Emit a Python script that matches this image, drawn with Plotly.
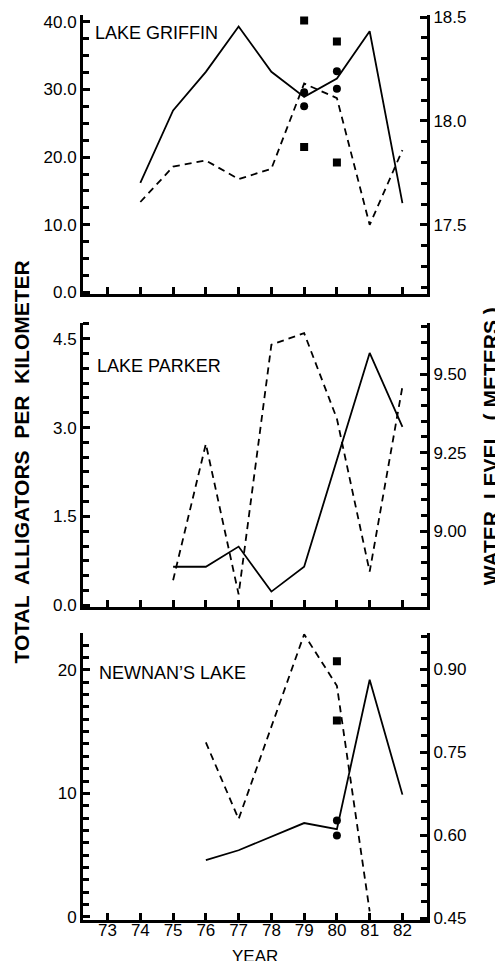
import plotly.graph_objects as go

# ---------------- data ----------------
year_ticks = [73, 74, 75, 76, 77, 78, 79, 80, 81, 82]
year_tick_labels = ["73", "74", "75", "76", "77", "78", "79", "80", "81", "82"]

# Lake Griffin
griffin_count_years = [74, 75, 76, 77, 78, 79, 80, 81, 82]
griffin_count = [16.2, 26.9, 32.6, 39.3, 32.6, 28.9, 31.6, 38.6, 13.2]
griffin_level_years = [74, 75, 76, 77, 78, 79, 80, 81, 82]
griffin_level = [17.61, 17.78, 17.81, 17.72, 17.77, 18.18, 18.11, 17.50, 17.86]
griffin_sq_years = [79, 79, 80, 80]
griffin_sq = [40.2, 21.5, 37.1, 19.2]
griffin_ci_years = [79, 79, 80, 80]
griffin_ci = [29.6, 27.5, 32.7, 30.1]

# Lake Parker
parker_count_years = [75, 76, 77, 78, 79, 81, 82]
parker_count = [0.65, 0.65, 0.99, 0.23, 0.65, 4.26, 3.01]
parker_level_years = [75, 76, 77, 78, 79, 80, 81, 82]
parker_level = [8.845, 9.278, 8.80, 9.593, 9.63, 9.358, 8.872, 9.46]

# Newnan's Lake
newnan_count_years = [76, 77, 79, 80, 81, 82]
newnan_count = [4.6, 5.4, 7.6, 7.1, 19.2, 9.9]
newnan_level_years = [76, 77, 79, 80, 81]
newnan_level = [0.7675, 0.629, 0.963, 0.87, 0.462]
newnan_sq_years = [80, 80]
newnan_sq = [20.7, 15.9]
newnan_ci_years = [80, 80]
newnan_ci = [7.8, 6.6]

# ---------------- figure ----------------
# The page body has an 8px margin: the figure is made 8px smaller than the
# window, and all positions below are given in window (page) pixels.
OFF = 8
PAGE_W, PAGE_H = 503, 961
PLOT_L, PLOT_R, PLOT_T, PLOT_B = 83, 419, 15, 912   # plot area in page pixels
W, H = PAGE_W - OFF, PAGE_H - OFF
ML, MR = PLOT_L - OFF, PAGE_W - PLOT_R - OFF
MT, MB = PLOT_T - OFF, PAGE_H - PLOT_B - OFF
PH = PLOT_B - PLOT_T
PW = PLOT_R - PLOT_L


def dom(px_bottom, px_top):
    return [(PLOT_B - px_bottom) / PH, (PLOT_B - px_top) / PH]


def px_x(px):
    return (px - PLOT_L) / PW


def px_y(px):
    return (PLOT_B - px) / PH


TICKFONT = dict(family="Liberation Sans, Arial, sans-serif", size=17, color="black")
SOLID = dict(color="black", width=1.8)
DASHED = dict(color="black", width=1.8, dash="7px,5px")

fig = go.Figure()

def add_line(x, y, xa, ya, line):
    fig.add_trace(go.Scatter(x=x, y=y, xaxis=xa, yaxis=ya, mode="lines",
                             line=line, showlegend=False, hoverinfo="skip"))

def add_pts(x, y, xa, ya, symbol):
    fig.add_trace(go.Scatter(x=x, y=y, xaxis=xa, yaxis=ya, mode="markers",
                             marker=dict(symbol=symbol, size=8, color="black"),
                             showlegend=False, hoverinfo="skip"))

# Panel 1
add_line(griffin_count_years, griffin_count, "x", "y", SOLID)
add_line(griffin_level_years, griffin_level, "x", "y2", DASHED)
add_pts(griffin_sq_years, griffin_sq, "x", "y", "square")
add_pts(griffin_ci_years, griffin_ci, "x", "y", "circle")
# Panel 2
add_line(parker_count_years, parker_count, "x2", "y3", SOLID)
add_line(parker_level_years, parker_level, "x2", "y4", DASHED)
# Panel 3
add_line(newnan_count_years, newnan_count, "x3", "y5", SOLID)
add_line(newnan_level_years, newnan_level, "x3", "y6", DASHED)
add_pts(newnan_sq_years, newnan_sq, "x3", "y5", "square")
add_pts(newnan_ci_years, newnan_ci, "x3", "y5", "circle")

XR = [72.25, 82.75]

def xaxis(anchor, show_labels):
    return dict(domain=[0, 1], anchor=anchor, range=XR, tickmode="array",
                tickvals=year_ticks, ticktext=year_tick_labels,
                showticklabels=show_labels, ticks="inside", ticklen=7, tickwidth=2.5,
                tickcolor="#000000", showline=True, linewidth=3, linecolor="#000000",
                showgrid=False, zeroline=False, tickfont=TICKFONT)

def yleft(anchor, domain, rng, dtick, minor, fmt):
    return dict(domain=domain, anchor=anchor, range=rng, tickmode="linear", tick0=0,
                dtick=dtick, tickformat=fmt, ticks="inside", ticklen=7, tickwidth=2.5,
                tickcolor="#000000",
                minor=dict(tick0=0, dtick=minor, ticks="inside", ticklen=6, tickwidth=2.5,
                           tickcolor="#000000", showgrid=False),
                showline=True, linewidth=3, linecolor="#000000", showgrid=False,
                zeroline=False, tickfont=TICKFONT, side="left")

def yright(anchor, overlay, rng, tick0, dtick, minor, fmt):
    return dict(overlaying=overlay, anchor=anchor, side="right", range=rng,
                tickmode="linear", tick0=tick0, dtick=dtick, tickformat=fmt,
                ticks="inside", ticklen=7, tickwidth=2.5, tickcolor="#000000",
                minor=dict(tick0=tick0, dtick=minor, ticks="inside", ticklen=6,
                           tickwidth=2.5, tickcolor="#000000", showgrid=False),
                showline=True, linewidth=3, linecolor="#000000", showgrid=False,
                zeroline=False, tickfont=TICKFONT)

d1 = dom(292, 15)
d2 = dom(602, 320)
d3 = dom(912, 628)

fig.update_layout(
    template="none",
    width=W, height=H,
    margin=dict(l=ML, r=MR, t=MT, b=MB, autoexpand=False),
    paper_bgcolor="white", plot_bgcolor="white",
    xaxis=xaxis("y", False),
    xaxis2=xaxis("y3", False),
    xaxis3=dict(xaxis("y5", True), ticklabelstandoff=-7),
    yaxis=yleft("x", d1, [-0.3, 41.0], 10, 2.5, ".1f"),
    yaxis2=yright("x", "y", [17.165, 18.51], 17.5, 0.5, 0.1, ".1f"),
    yaxis3=yleft("x2", d2, [-0.034, 4.77], 1.5, 0.25, ".1f"),
    yaxis4=yright("x2", "y3", [8.759, 9.663], 9.0, 0.25, 0.05, ".2f"),
    yaxis5=yleft("x3", d3, [-0.245, 22.94], 10, 1, "d"),
    yaxis6=yright("x3", "y5", [0.4464, 0.9646], 0.45, 0.15, 0.03, ".2f"),
)

LABELFONT = dict(family="Liberation Sans, Arial, sans-serif", size=18, color="black")
TITLEFONT = dict(family="Liberation Sans, Arial, sans-serif",
                 size=21, color="black", weight="bold")

annotations = [
    dict(text="LAKE GRIFFIN", x=px_x(93), y=px_y(33), xanchor="left", yanchor="middle",
         font=LABELFONT),
    dict(text="LAKE PARKER", x=px_x(95), y=px_y(363), xanchor="left", yanchor="middle",
         font=LABELFONT),
    dict(text="NEWNAN’S LAKE", x=px_x(97), y=px_y(667), xanchor="left", yanchor="middle",
         font=LABELFONT),
    dict(text="YEAR", x=px_x(251), y=px_y(960), xanchor="center", yanchor="bottom",
         font=dict(family="Liberation Sans, Arial, sans-serif", size=17, color="black")),
    dict(text="TOTAL  ALLIGATORS  PER  KILOMETER", x=px_x(23), y=px_y(458), textangle=-90,
         xanchor="center", yanchor="middle", font=TITLEFONT),
    dict(text="WATER  LEVEL  ( METERS )", x=px_x(481), y=px_y(442), textangle=-90,
         xanchor="center", yanchor="middle", font=TITLEFONT),
]
for a in annotations:
    a.update(xref="paper", yref="paper", showarrow=False)
fig.update_layout(annotations=annotations)

fig.write_html("out.html")
